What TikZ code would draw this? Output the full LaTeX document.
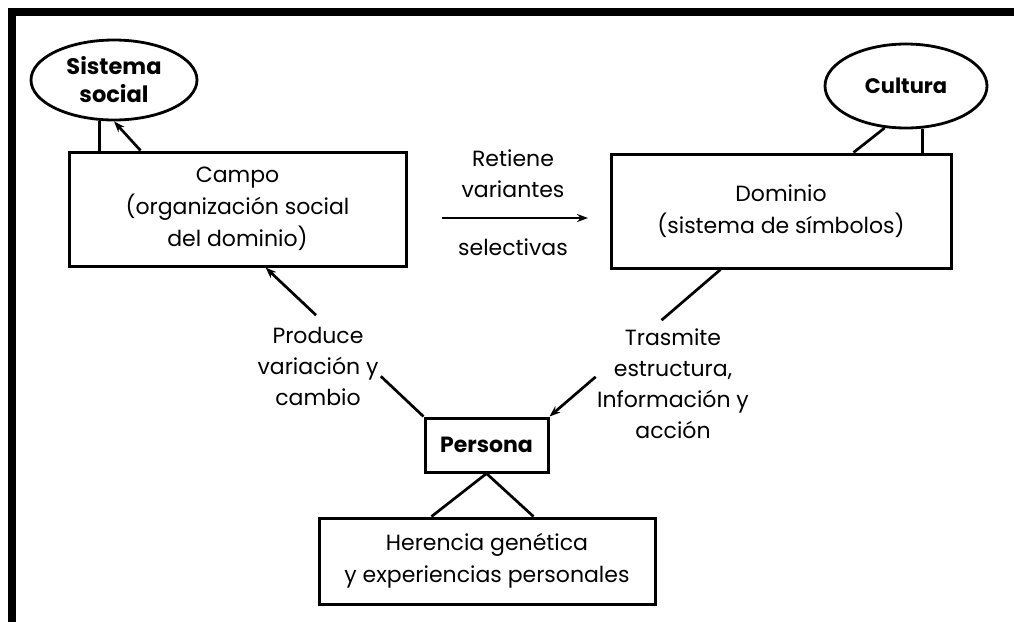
\documentclass[tikz,border=0pt]{standalone}
\usepackage{fontspec}
\setmainfont{Poppins}
\usetikzlibrary{shapes.geometric,arrows.meta,calc}
\begin{document}
\begin{tikzpicture}[x=1pt,y=-1pt,
  box/.style={draw,line width=3pt,rectangle,inner sep=0pt,align=center,font=\fontsize{22}{32}\selectfont},
  oval/.style={draw,line width=2.8pt,ellipse,inner sep=0pt,align=center,font=\fontsize{22.5}{28}\selectfont\bfseries},
  lbl/.style={align=center,inner sep=0pt,font=\fontsize{22}{31}\selectfont},
  conn/.style={line width=2.7pt},
  arr/.style={conn,-{Stealth[length=11pt,width=8pt]}}]
\useasboundingbox (0,0) rectangle (1014,622);
\fill (8,8) rectangle (1014,16);
\fill (8,8) rectangle (16,622);

\node[oval,minimum width=166pt,minimum height=80pt] (sis) at (114,80) {Sistema\\social};
\node[oval,font=\fontsize{21}{28}\selectfont\bfseries,minimum width=162pt,minimum height=84pt] (cul) at (906,86) {Cultura};
\node[box,minimum width=337pt,minimum height=114pt] (campo) at (237.5,209) {Campo\\(organización social\\del dominio)};
\node[box,minimum width=340pt,minimum height=114pt] (dom) at (781,211) {Dominio\\(sistema de símbolos)};
\node[box,font=\fontsize{22}{31}\selectfont\bfseries,minimum width=123pt,minimum height=54pt] (per) at (486.5,445) {Persona};
\node[box,minimum width=336pt,minimum height=86pt] (her) at (487,561) {Herencia genética\\y experiencias personales};

\node[lbl] (ret) at (513,174) {Retiene\\variantes};
\node[lbl] (sel) at (513,247) {selectivas};
\node[lbl] (prod) at (318,366) {Produce\\variación y\\cambio};
\node[lbl] (tras) at (673,384) {Trasmite\\estructura,\\Información y\\acción};

\coordinate (a1) at (442,218);
\coordinate (a2) at (588,218);
\draw[arr] (a1) -- (a2);

\draw[conn] (sis.250) -- (sis.250 |- campo.north);
\draw[arr] ($(campo.north west)+(73,0)$) -- (sis.south);
\draw[conn] (cul.243) -- ($(dom.north west)+(244,0)$);
\draw[conn] (cul.291) -- (cul.291 |- dom.north);

\coordinate (d0) at ($(dom.south west)+(111,0)$);
\draw[conn] (d0) -- ($(d0)!0.345!(per.north east)$);
\draw[arr] ($(d0)!0.73!(per.north east)$) -- (per.north east);

\coordinate (c0) at ($(campo.south west)+(198,0)$);
\draw[conn] (per.north west) -- ($(per.north west)!0.27!(c0)$);
\draw[arr] ($(per.north west)!0.68!(c0)$) -- (c0);

\draw[conn] (per.south) -- ($(her.north west)+(114,0)$);
\draw[conn] (per.south) -- ($(her.north west)+(216,0)$);
\end{tikzpicture}
\end{document}
